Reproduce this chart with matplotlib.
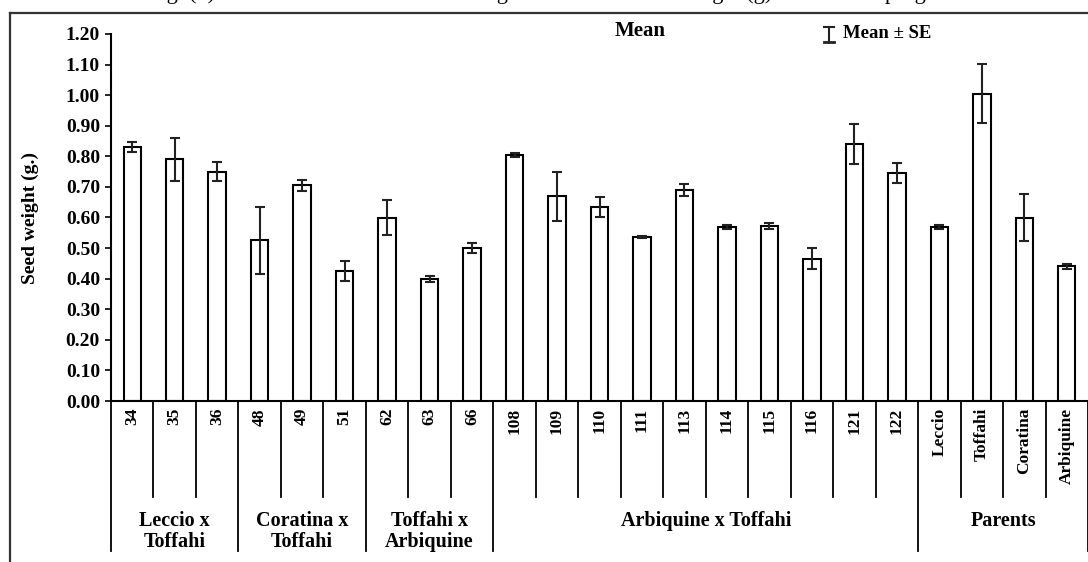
import matplotlib
matplotlib.use("Agg")
import matplotlib.pyplot as plt
from matplotlib.lines import Line2D
import matplotlib.transforms as mtransforms
import numpy as np

labels = ['34', '35', '36', '48', '49', '51', '62', '63', '66',
          '108', '109', '110', '111', '113', '114', '115', '116', '121', '122',
          'Leccio', 'Toffahi', 'Coratina', 'Arbiquine']
means = [0.83, 0.79, 0.75, 0.525, 0.705, 0.425, 0.60, 0.40, 0.50,
         0.805, 0.67, 0.635, 0.535, 0.69, 0.568, 0.572, 0.465, 0.84, 0.745,
         0.568, 1.005, 0.60, 0.44]
se = [0.017, 0.07, 0.03, 0.11, 0.018, 0.033, 0.058, 0.01, 0.015,
      0.006, 0.08, 0.032, 0.003, 0.02, 0.006, 0.01, 0.035, 0.066, 0.033,
      0.006, 0.097, 0.078, 0.008]
groups = ['Leccio x\nToffahi', 'Coratina x\nToffahi', 'Toffahi x\nArbiquine',
          'Arbiquine x Toffahi', 'Parents']
group_sizes = [3, 3, 3, 10, 4]

W, H = 1088, 562
plt.rcParams['font.family'] = ['Liberation Serif', 'DejaVu Serif']
plt.rcParams['font.weight'] = 'bold'

fig = plt.figure(figsize=(W / 100, H / 100), dpi=100)
ax = fig.add_axes([111 / W, 1 - 401 / H, (W - 111) / W, (401 - 34) / H])

x = np.arange(len(labels))
ax.bar(x, means, width=0.41, color='white', edgecolor='black', linewidth=1.5, zorder=2)
ax.errorbar(x, means, yerr=se, fmt='none', ecolor='#222222', elinewidth=1.5,
            capsize=3.4, capthick=1.5, zorder=3)

ax.set_xlim(-0.5, len(labels) - 0.5)
ax.set_ylim(0, 1.2)
ax.set_yticks(np.arange(0, 1.21, 0.1))
ax.set_yticklabels(['%.2f' % v for v in np.arange(0, 1.21, 0.1)], fontsize=14, fontweight='bold')
ax.tick_params(axis='y', length=4, width=1.2, pad=4, direction='out')
ax.set_xticks(x)
ax.set_xticklabels(labels, rotation=90, fontsize=12.5, fontweight='bold', va='top')
ax.tick_params(axis='x', length=0, pad=5)
for s in ['top', 'right']:
    ax.spines[s].set_visible(False)
for s in ['left', 'bottom']:
    ax.spines[s].set_linewidth(1.5)

# separator lines below the axis
trans = mtransforms.blended_transform_factory(ax.transData, ax.transAxes)
bounds = np.cumsum([0] + group_sizes)
short_end = -(497 - 401) / 367
long_end = -(551 - 401) / 367
for k in range(len(labels) + 1):
    y_end = long_end if k in bounds else short_end
    ax.add_line(Line2D([k - 0.5, k - 0.5], [0, y_end], transform=trans,
                       color='black', lw=1.3, clip_on=False))

# group labels
for i, name in enumerate(groups):
    cx = (bounds[i] + bounds[i + 1]) / 2 - 0.5
    ax.text(cx, -(511 - 401) / 367, name, transform=trans, ha='center', va='top',
            fontsize=14.5, fontweight='bold', linespacing=1.05)

fig.text(30 / W, 1 - 218 / H, 'Seed weight (g.)', rotation=90, ha='center', va='center',
         fontsize=14, fontweight='bold')

# legend-like texts
fig.text(640 / W, 1 - 31 / H, 'Mean', ha='center', va='center', fontsize=15, fontweight='bold')
fig.text(843 / W, 1 - 34 / H, 'Mean \u00b1 SE', ha='left', va='center', fontsize=13.5, fontweight='bold')
sx, sy0, sy1 = 829, 27, 42
fig.add_artist(Line2D([sx / W, sx / W], [1 - sy0 / H, 1 - sy1 / H], color='#222222', lw=1.5))
fig.add_artist(Line2D([(sx - 5) / W, (sx + 5) / W], [1 - sy0 / H, 1 - sy0 / H], color='#222222', lw=1.5))
fig.add_artist(Line2D([(sx - 5) / W, (sx + 5) / W], [1 - sy1 / H, 1 - sy1 / H], color='#222222', lw=2))

# outer frame (cropped)
fig.add_artist(Line2D([10 / W, 1], [1 - 13 / H, 1 - 13 / H], color='#333333', lw=1.6))
fig.add_artist(Line2D([10 / W, 10 / W], [1 - 13 / H, 0], color='#333333', lw=1.6))

# caption, cut off at the top edge as in the source
fig.text(560 / W, 1 + 1 / H, 'Fig. (2): Mean and standard error during the season of seed weight (g) of the olive progenies',
         ha='center', va='baseline', fontsize=16, fontweight='normal')

fig.savefig('out.png', dpi=100)
